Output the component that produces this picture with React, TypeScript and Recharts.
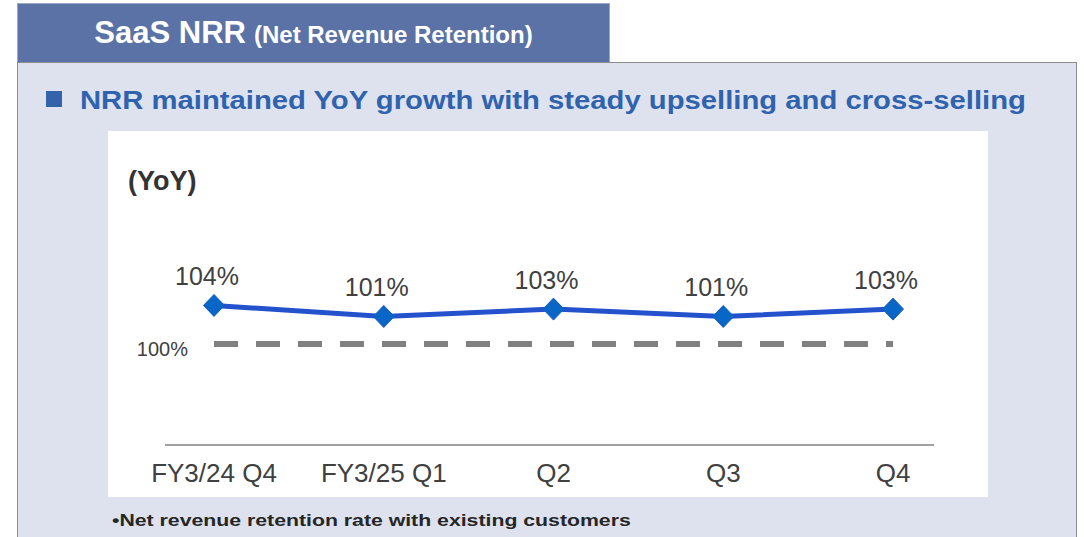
import React from 'react';
import { LineChart, Line, XAxis, YAxis, LabelList } from 'recharts';

const categories = ['FY3/24 Q4', 'FY3/25 Q1', 'Q2', 'Q3', 'Q4'];
const nrrValues = [104, 101, 103, 101, 103];
const baselineValue = 100;
const headerTitle = 'SaaS NRR';
const headerSub = '(Net Revenue Retention)';
const mainTitle = 'NRR maintained YoY growth with steady upselling and cross-selling';
const unitLabel = '(YoY)';
const footnote = '•Net revenue retention rate with existing customers';

const data = categories.map((c, i) => ({ category: c, nrr: nrrValues[i], base: baselineValue }));

const FONT = '"Liberation Sans", Arial, Helvetica, sans-serif';
const TEXT = '#404040';

const Diamond = (props: any) => {
  const { cx, cy } = props;
  if (cx == null || cy == null) return null;
  const w = 10.5, h = 11;
  return (
    <polygon
      points={`${cx},${cy - h} ${cx + w},${cy} ${cx},${cy + h} ${cx - w},${cy}`}
      fill="#0866c6"
      stroke="#1a5cc4"
      strokeWidth={1}
    />
  );
};

const renderTick = (props: any) => {
  const { x, y, payload } = props;
  return (
    <text x={x} y={y + 37} textAnchor="middle" fontSize={26} fill={TEXT} fontFamily={FONT}>
      {payload.value}
    </text>
  );
};

const renderValueLabel = (props: any) => {
  const { x, y, value } = props;
  return (
    <text x={x - 7} y={y - 20} textAnchor="middle" fontSize={25} fill={TEXT} fontFamily={FONT}>
      {`${value}%`}
    </text>
  );
};

const renderBaseLabel = (props: any) => {
  const { x, y, value, index } = props;
  if (index !== 0) return null;
  return (
    <text x={x - 26} y={y + 12} textAnchor="end" fontSize={20} fill={TEXT} fontFamily={FONT}>
      {`${value}%`}
    </text>
  );
};

export default function App() {
  return (
    <div style={{ position: 'absolute', left: 0, top: 0, width: 1084, height: 537, background: '#ffffff', overflow: 'hidden', fontFamily: FONT }}>
      {/* header tab */}
      <div style={{ position: 'absolute', left: 17, top: 3, width: 593, height: 59, background: '#5a72a6', borderTop: '1px solid #9aa6c2', borderLeft: '1px solid #9aa6c2', borderRight: '1px solid #9aa6c2', boxSizing: 'border-box', display: 'flex', alignItems: 'center', justifyContent: 'center', color: '#ffffff', fontWeight: 'bold', whiteSpace: 'nowrap' }}>
        <span style={{ fontSize: 31 }}>{headerTitle}</span>
        <span style={{ fontSize: 24, marginLeft: 8, marginTop: 4 }}>{headerSub}</span>
      </div>
      {/* panel */}
      <div style={{ position: 'absolute', left: 17, top: 62, width: 1060, height: 490, background: '#dee2ee', border: '1px solid #8c8c8c', boxSizing: 'border-box' }} />
      {/* bullet square */}
      <div style={{ position: 'absolute', left: 46, top: 91, width: 16, height: 16, background: '#3463aa' }} />
      {/* title */}
      <div style={{ position: 'absolute', left: 80, top: 83, fontSize: 26, lineHeight: '34px', fontWeight: 'bold', color: '#2f63ad', whiteSpace: 'nowrap', transform: 'scaleX(1.125)', transformOrigin: 'left center' }}>
        {mainTitle}
      </div>
      {/* white chart area */}
      <div style={{ position: 'absolute', left: 108, top: 131, width: 880, height: 366, background: '#ffffff' }}>
        <div style={{ position: 'absolute', left: 20, top: 35, fontSize: 27, lineHeight: '30px', fontWeight: 'bold', color: '#333333', whiteSpace: 'nowrap' }}>
          {unitLabel}
        </div>
        <div style={{ position: 'absolute', left: 0, top: 0 }}>
          <LineChart width={880} height={366} data={data} margin={{ top: 112, right: 54, bottom: 0, left: 57 }}>
            <XAxis
              dataKey="category"
              padding={{ left: 49, right: 41 }}
              axisLine={{ stroke: '#404040', strokeWidth: 1 }}
              tickLine={false}
              tickSize={0}
              tickMargin={0}
              height={52}
              interval={0}
              tick={renderTick}
            />
            <YAxis yAxisId="nrr" hide domain={[66, 121]} />
            <YAxis yAxisId="base" hide domain={[90, 110]} />
            <Line
              yAxisId="base"
              type="linear"
              dataKey="base"
              stroke="#808080"
              strokeWidth={6}
              strokeDasharray="24 18"
              dot={false}
              activeDot={false}
              isAnimationActive={false}
            >
              <LabelList dataKey="base" content={renderBaseLabel} />
            </Line>
            <Line
              yAxisId="nrr"
              type="linear"
              dataKey="nrr"
              stroke="#2352cc"
              strokeWidth={5}
              dot={<Diamond />}
              activeDot={false}
              isAnimationActive={false}
            >
              <LabelList dataKey="nrr" content={renderValueLabel} />
            </Line>
          </LineChart>
        </div>
      </div>
      {/* footnote */}
      <div style={{ position: 'absolute', left: 112, top: 510, fontSize: 17, lineHeight: '22px', fontWeight: 'bold', color: '#262626', whiteSpace: 'nowrap', transform: 'scaleX(1.25)', transformOrigin: 'left center' }}>
        {footnote}
      </div>
    </div>
  );
}
